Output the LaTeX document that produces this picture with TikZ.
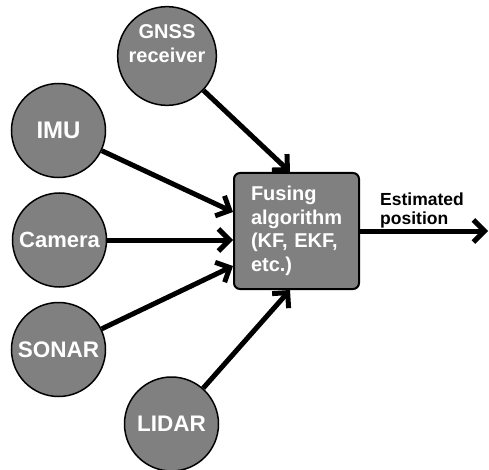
\documentclass[tikz,border=0pt]{standalone}
\usepackage{fontspec}
\setmainfont{Liberation Sans}
\usetikzlibrary{arrows.meta}
\definecolor{fillg}{RGB}{128,128,128}
\begin{document}
\begin{tikzpicture}[x=1pt,y=-1pt,
  sensor/.style={circle,draw=black,line width=1.5pt,fill=fillg,minimum size=94pt,inner sep=0pt,text=white,font=\bfseries,align=center},
  fusebox/.style={draw=black,line width=2pt,fill=fillg,rounded corners=6pt,minimum width=125pt,minimum height=116pt,inner sep=0pt,text=white,align=left,text width=91pt,font=\fontsize{20}{23.5}\selectfont\bfseries},
  flow/.style={line width=5pt,-{Straight Barb[length=11pt,width=22pt,line width=5pt]}}]
\useasboundingbox (0,0) rectangle (489,470);
\node[sensor,font=\fontsize{20}{23.5}\selectfont\bfseries] (gnss) at (167,56) {GNSS\\receiver\\[-6pt]\strut};
\node[sensor,font=\fontsize{24}{28}\selectfont\bfseries] (imu) at (58.5,130.5) {IMU};
\node[sensor,font=\fontsize{22}{26}\selectfont\bfseries] (cam) at (59.5,240) {Camera};
\node[sensor,font=\fontsize{22.5}{26}\selectfont\bfseries] (sonar) at (58.5,349.5) {SONAR};
\node[sensor,font=\fontsize{22.5}{26}\selectfont\bfseries] (lidar) at (171.5,424) {LIDAR};
\node[fusebox] (fuse) at (296.5,231) {Fusing\\algorithm\\(KF, EKF,\\etc.)};
\node[anchor=south west,inner sep=0pt,align=left,font=\fontsize{17.5}{19}\selectfont\bfseries] (est) at (380,228) {Estimated\\position};
\coordinate (tgnss) at ([xshift=-6.5pt]fuse.north);
\coordinate (tlidar) at ([xshift=-6.5pt]fuse.south);
\coordinate (timu) at ([yshift=19pt]fuse.west);
\coordinate (tcam) at ([yshift=-9pt]fuse.west);
\coordinate (tsonar) at ([yshift=-35pt]fuse.west);
\coordinate (out) at (488,231);
\draw[flow] (gnss) -- (tgnss);
\draw[flow] (imu) -- (timu);
\draw[flow] (cam) -- (tcam);
\draw[flow] (sonar) -- (tsonar);
\draw[flow] (lidar) -- (tlidar);
\draw[flow] (fuse.east) -- (out);
\end{tikzpicture}
\end{document}
